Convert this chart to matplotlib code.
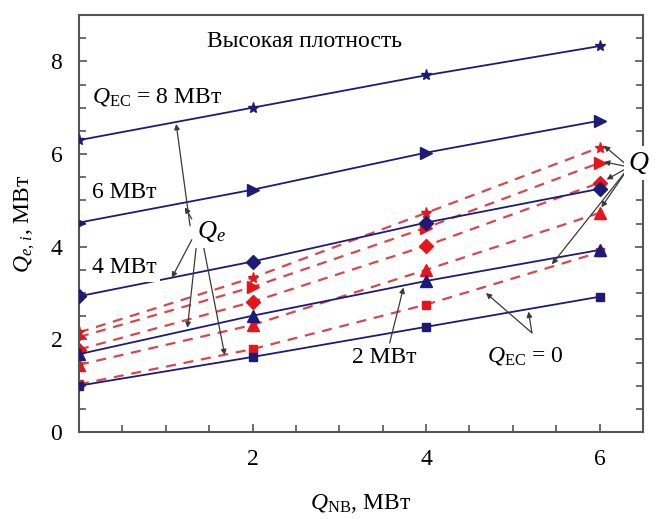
import numpy as np
import matplotlib
matplotlib.use("Agg")
import matplotlib.pyplot as plt
from matplotlib.ticker import MultipleLocator

plt.rcParams['font.family'] = ['Liberation Serif', 'DejaVu Serif']
plt.rcParams['mathtext.fontset'] = 'custom'
plt.rcParams['mathtext.rm'] = 'Liberation Serif'
plt.rcParams['mathtext.it'] = 'Liberation Serif:italic'

# NB heating power, MW
q_nb = [0, 2, 4, 6]

# Q_e (solid blue) for Q_EC = 0, 2, 4, 6, 8 MW
qe_0 = [1.00, 1.62, 2.27, 2.92]
qe_2 = [1.68, 2.51, 3.26, 3.93]
qe_4 = [2.93, 3.68, 4.52, 5.25]
qe_6 = [4.52, 5.23, 6.03, 6.72]
qe_8 = [6.30, 7.00, 7.70, 8.33]

# Q (dashed red) for the same Q_EC values
q_0 = [1.03, 1.79, 2.75, 3.88]
q_2 = [1.45, 2.31, 3.50, 4.73]
q_4 = [1.78, 2.81, 4.02, 5.38]
q_6 = [2.05, 3.13, 4.41, 5.81]
q_8 = [2.15, 3.33, 4.73, 6.14]

markers = ['s', '^', 'D', '>', '*']
sizes = [6, 8, 7, 8, 8]
blue = '#1c1c78'
red_m = '#e8141c'
red_l = '#d9474c'

fig = plt.figure(figsize=(6.55, 5.19), dpi=100)
ax = fig.add_axes([0.1206, 0.1676, 0.8611, 0.8034])

for ys, m, s in zip([q_0, q_2, q_4, q_6, q_8], markers, sizes):
    ax.plot(q_nb, ys, color=red_l, lw=1.6, ls=(0, (4.5, 3.5)), zorder=2)
    ax.plot(q_nb, ys, ls='none', marker=m, ms=s, color=red_m, mec=red_m, zorder=2.5)

for ys, m, s in zip([qe_0, qe_2, qe_4, qe_6, qe_8], markers, sizes):
    ax.plot(q_nb, ys, color=blue, lw=1.3, marker=m, ms=s, mec=blue, zorder=3)

ax.set_xlim(0, 6.5)
ax.set_ylim(0, 9)
ax.set_xticks([2, 4, 6])
ax.set_yticks([0, 2, 4, 6, 8])
ax.xaxis.set_minor_locator(MultipleLocator(0.5))
ax.yaxis.set_minor_locator(MultipleLocator(0.5))
ax.tick_params(which='both', direction='in', right=True, color='#555555', width=1.2,
               labelsize=17, pad=12)
ax.tick_params(which='major', length=6)
ax.tick_params(which='minor', length=5)
for sp in ax.spines.values():
    sp.set_color('#555555')
    sp.set_linewidth(1.5)

ax.set_xlabel(r'$Q_{\mathrm{NB}}$, МВт', fontsize=17, labelpad=16)
ax.set_ylabel(r'$Q_{e,\, i}$, МВт', fontsize=17, labelpad=10)

fs = 17
wbox = dict(boxstyle='square,pad=0.15', fc='white', ec='none')
ax.text(2.6, 8.43, 'Высокая плотность', fontsize=fs, ha='center', va='center')
ax.text(0.15, 7.24, r'$Q_{\mathrm{EC}}$ = 8 МВт', fontsize=fs, ha='left', va='center')
ax.text(0.15, 5.17, '6 МВт', fontsize=fs, ha='left', va='center')
ax.text(0.15, 3.55, '4 МВт', fontsize=fs, ha='left', va='center', bbox=wbox, zorder=4)
ax.text(3.52, 1.6, '2 МВт', fontsize=fs, ha='center', va='center', bbox=wbox, zorder=4)
ax.text(5.15, 1.64, r'$Q_{\mathrm{EC}}$ = 0', fontsize=fs, ha='center', va='center')

arr = dict(arrowstyle='-|>', color='#3a3a3a', lw=0.9, mutation_scale=8, shrinkA=0, shrinkB=0)

# Q_e label with arrows pointing at each solid line
ax.text(1.53, 4.32, r'$Q_e$', fontsize=fs + 2, ha='center', va='center', bbox=wbox, zorder=5)
for (tx, ty), (hx, hy) in [((1.28, 4.45), (1.12, 6.65)),
                           ((1.30, 4.6), (1.22, 4.85)),
                           ((1.30, 4.15), (1.07, 3.33)),
                           ((1.36, 4.15), (1.25, 2.25)),
                           ((1.42, 4.15), (1.68, 1.66))]:
    ax.annotate('', xy=(hx, hy), xytext=(tx, ty), arrowprops=arr, zorder=4)

# 2 MW label arrow
ax.annotate('', xy=(3.74, 3.12), xytext=(3.58, 1.92), arrowprops=arr, zorder=4)

# Q_EC = 0 label arrows
ax.annotate('', xy=(4.69, 3.0), xytext=(5.22, 2.14), arrowprops=arr, zorder=4)
ax.annotate('', xy=(5.18, 2.6), xytext=(5.22, 2.14), arrowprops=arr, zorder=4)

# Q label with arrows to the dashed-line end points
ax.text(6.45, 5.8, r'$Q$', fontsize=fs + 3, ha='center', va='center', bbox=wbox,
        zorder=5, clip_on=False)
for (hx, hy) in [(6.05, 6.18), (6.05, 5.83), (6.08, 5.45), (6.02, 4.85), (5.45, 3.62)]:
    ax.annotate('', xy=(hx, hy), xytext=(6.34, 5.72), arrowprops=arr, zorder=4)

fig.savefig('out.png', dpi=100)
